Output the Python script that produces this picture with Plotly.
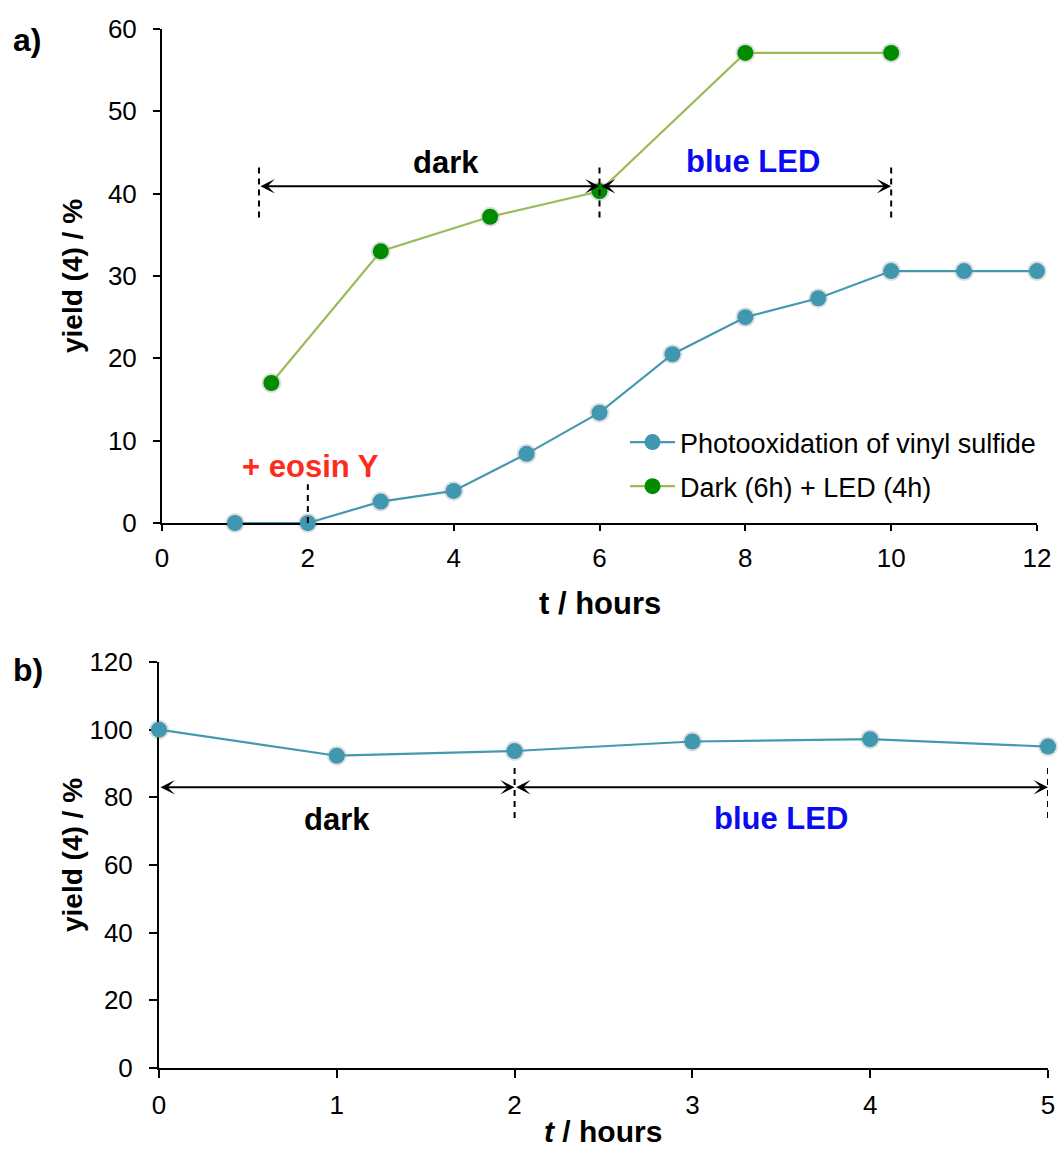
import plotly.graph_objects as go

# ---- data -------------------------------------------------------------
# (a) yield of 4 vs time
t_photo = [1, 2, 3, 4, 5, 6, 7, 8, 9, 10, 11, 12]
yield_photo = [0, 0, 2.6, 3.9, 8.4, 13.4, 20.5, 25.0, 27.3, 30.6, 30.6, 30.6]
name_photo = "Photooxidation of vinyl sulfide"

t_dark_led = [1.5, 3, 4.5, 6, 8, 10]
yield_dark_led = [17.0, 33.0, 37.2, 40.3, 57.1, 57.1]
name_dark_led = "Dark (6h) + LED (4h)"

a_xticks = [0, 2, 4, 6, 8, 10, 12]
a_yticks = [0, 10, 20, 30, 40, 50, 60]

# (b) yield of 4 vs time, dark then blue LED
t_b = [0, 1, 2, 3, 4, 5]
yield_b = [100, 92.3, 93.7, 96.5, 97.2, 95.0]
b_xticks = [0, 1, 2, 3, 4, 5]
b_yticks = [0, 20, 40, 60, 80, 100, 120]

# period markers: (start, end, arrow level, dash bottom, dash top)
a_dark = (1.33, 6, 40.9, 37.1, 43.5)
a_led = (6, 10, 40.9, 37.1, 43.5)
a_eosin = (2, 0, 4.7)            # x, dash bottom, dash top
b_dark = (0, 2, 83.0, 73.9, 89.6)
b_led = (2, 5, 83.0, 73.9, 89.6)

# ---- page geometry (pixels) -------------------------------------------
W, H = 1059, 1150


def px(x):
    return x / W


def py(y):
    return 1 - y / H


# ---- styles -----------------------------------------------------------
FONT = "Liberation Sans, Arial, sans-serif"
TEAL = "#3F98B0"
TEAL_LINE = "#4499B0"
GREEN = "#008C00"
GREEN_LINE = "#9BBB59"
SHADOW = "rgba(0,0,0,0.13)"

fig = go.Figure()


def add_series(x, y, xa, ya, mcolor, lcolor, name, show, group):
    # soft halo under each marker
    fig.add_trace(go.Scatter(
        x=x, y=y, xaxis=xa, yaxis=ya, mode="markers",
        marker=dict(size=20, color=SHADOW), showlegend=False,
        hoverinfo="skip", cliponaxis=False))
    fig.add_trace(go.Scatter(
        x=x, y=y, xaxis=xa, yaxis=ya, mode="lines+markers", name=name,
        line=dict(color=lcolor, width=2.2),
        marker=dict(size=16, color=mcolor),
        showlegend=show, legendgroup=group, cliponaxis=False))


add_series(t_photo, yield_photo, "x", "y", TEAL, TEAL_LINE, name_photo, True, "g1")
add_series(t_dark_led, yield_dark_led, "x", "y", GREEN, GREEN_LINE, name_dark_led, True, "g2")
add_series(t_b, yield_b, "x2", "y2", TEAL, TEAL_LINE, "b", False, "g3")

shapes = []
annotations = []


def dash_line(xr, yr, x, y0, y1):
    shapes.append(dict(type="line", xref=xr, yref=yr, x0=x, x1=x, y0=y0, y1=y1,
                       line=dict(color="black", width=2, dash="6px,5px")))


def double_arrow(xr, yr, x0, x1, y):
    annotations.append(dict(
        xref=xr, yref=yr, axref=xr, ayref=yr, x=x1, y=y, ax=x0, ay=y,
        text="", showarrow=True, arrowside="end+start",
        arrowhead=3, startarrowhead=3, arrowsize=1.2, startarrowsize=1.2,
        arrowwidth=2, arrowcolor="black", standoff=0, startstandoff=0))


def period(xr, yr, spec, dash_start=True):
    x0, x1, ya, d0, d1 = spec
    if dash_start:
        dash_line(xr, yr, x0, d0, d1)
    dash_line(xr, yr, x1, d0, d1)
    double_arrow(xr, yr, x0, x1, ya)


period("x", "y", a_dark)
period("x", "y", a_led, dash_start=False)
dash_line("x", "y", a_eosin[0], a_eosin[1], a_eosin[2])
period("x2", "y2", b_dark, dash_start=False)
period("x2", "y2", b_led, dash_start=False)


def label(xr, yr, x, y, text, color="black", size=31, xanchor="center", **kw):
    annotations.append(dict(xref=xr, yref=yr, x=x, y=y, text="<b>%s</b>" % text,
                            showarrow=False, xanchor=xanchor, yanchor="middle",
                            font=dict(family=FONT, size=size, color=color), **kw))


label("x", "y", 3.9, 43.8, "dark")
label("x", "y", 8.1, 43.9, "blue LED", color="#0B0BF2")
label("x", "y", 2.03, 6.9, "+ eosin Y", color="#FF2B1C")
label("x2", "y2", 1.0, 73.5, "dark")
label("x2", "y2", 3.5, 73.7, "blue LED", color="#0B0BF2")

# panel tags and axis titles
label("paper", "paper", px(11), py(40), "a)", size=32, xanchor="left")
label("paper", "paper", px(11), py(670), "b)", size=32, xanchor="left")
label("paper", "paper", px(72), py(276), "yield (4) / %", size=28, textangle=-90)
label("paper", "paper", px(72), py(855), "yield (4) / %", size=28, textangle=-90)
label("paper", "paper", px(600), py(603), "t / hours", size=31)
label("paper", "paper", px(603), py(1131), "<i>t</i> / hours", size=30)

axis_common = dict(showgrid=False, zeroline=False, showline=True, linecolor="black",
                   linewidth=2, ticks="outside", tickcolor="black", tickwidth=1.5,
                   tickfont=dict(family=FONT, size=26, color="black"),
                   layer="below traces", fixedrange=True, automargin=False)

fig.update_layout(
    width=W, height=H, autosize=False,
    margin=dict(l=0, r=0, t=0, b=0, pad=0, autoexpand=False),
    paper_bgcolor="white", plot_bgcolor="white",
    font=dict(family=FONT, color="black"),
    xaxis=dict(domain=[px(162), px(1037)], range=[0, 12], tickvals=a_xticks,
               anchor="y", ticklen=6, ticklabelstandoff=5, **axis_common),
    yaxis=dict(domain=[py(523), py(29)], range=[0, 60], tickvals=a_yticks,
               anchor="x", ticklen=7, ticklabelstandoff=11, **axis_common),
    xaxis2=dict(domain=[px(159), px(1048)], range=[0, 5], tickvals=b_xticks,
                anchor="y2", ticklen=8, ticklabelstandoff=5, **axis_common),
    yaxis2=dict(domain=[py(1068), py(662)], range=[0, 120], tickvals=b_yticks,
                anchor="x2", ticklen=8, ticklabelstandoff=11, **axis_common),
    legend=dict(x=px(625), y=py(418), xanchor="left", yanchor="top",
                font=dict(family=FONT, size=27, color="black"),
                bgcolor="rgba(0,0,0,0)", tracegroupgap=6, itemwidth=45),
    shapes=shapes,
    annotations=annotations,
    showlegend=True,
)

fig.write_html("out.html")
